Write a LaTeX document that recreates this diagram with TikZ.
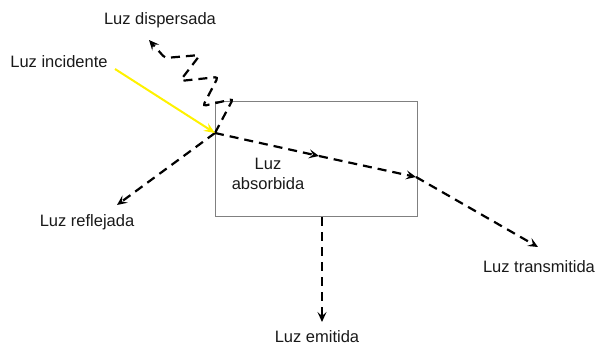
\documentclass[tikz,border=0pt]{standalone}
\usepackage{fontspec}
\setmainfont{Liberation Sans}
\usetikzlibrary{arrows.meta}
\tikzset{
  lbl/.style={font=\fontsize{16.5}{20}\selectfont, text=black!90, inner sep=0pt, align=center},
  ray/.style={line width=2.2pt, dash pattern=on 9pt off 6pt, -{Stealth[length=10pt,width=9pt,inset=4pt]}},
  inc/.style={line width=2pt, draw=yellow, -{Stealth[length=11pt,width=9pt,inset=4pt]}},
  sample/.style={draw=black!50, line width=1pt}
}
\begin{document}
\begin{tikzpicture}[x=1pt,y=-1pt]
\useasboundingbox (0,0) rectangle (600,346);
\draw[sample] (215,101) rectangle (417,216);
% points
\coordinate (P) at (215,133);
\coordinate (S) at (115,69);
\coordinate (M) at (319,156);
\coordinate (Q) at (416,177);
\coordinate (T) at (538,247);
\coordinate (R) at (117,205);
\coordinate (E0) at (322,217);
\coordinate (E1) at (322,322);
\coordinate (D) at (149,40);
% labels
\node[lbl] (ldisp) at (160,20) {Luz dispersada};
\node[lbl] (linc) at (59,62) {Luz incidente};
\node[lbl] (lref) at (87,222) {Luz reflejada};
\node[lbl] (labs) at (268,174) {Luz\\absorbida};
\node[lbl] (ltra) at (539,267) {Luz transmitida};
\node[lbl] (lemi) at (317,337) {Luz emitida};
% rays
\draw[ray] (P) -- (R);
\draw[ray] (P) -- (M);
\draw[ray] (M) -- (Q);
\draw[ray] (Q) -- (T);
\draw[ray] (E0) -- (E1);
\draw[ray, rounded corners=3pt] (P) -- (233,99) -- (203,106) -- (218,77) -- (180,81) -- (200,55) -- (165,58) -- (D);
\draw[inc] (S) -- (P);
\end{tikzpicture}
\end{document}
